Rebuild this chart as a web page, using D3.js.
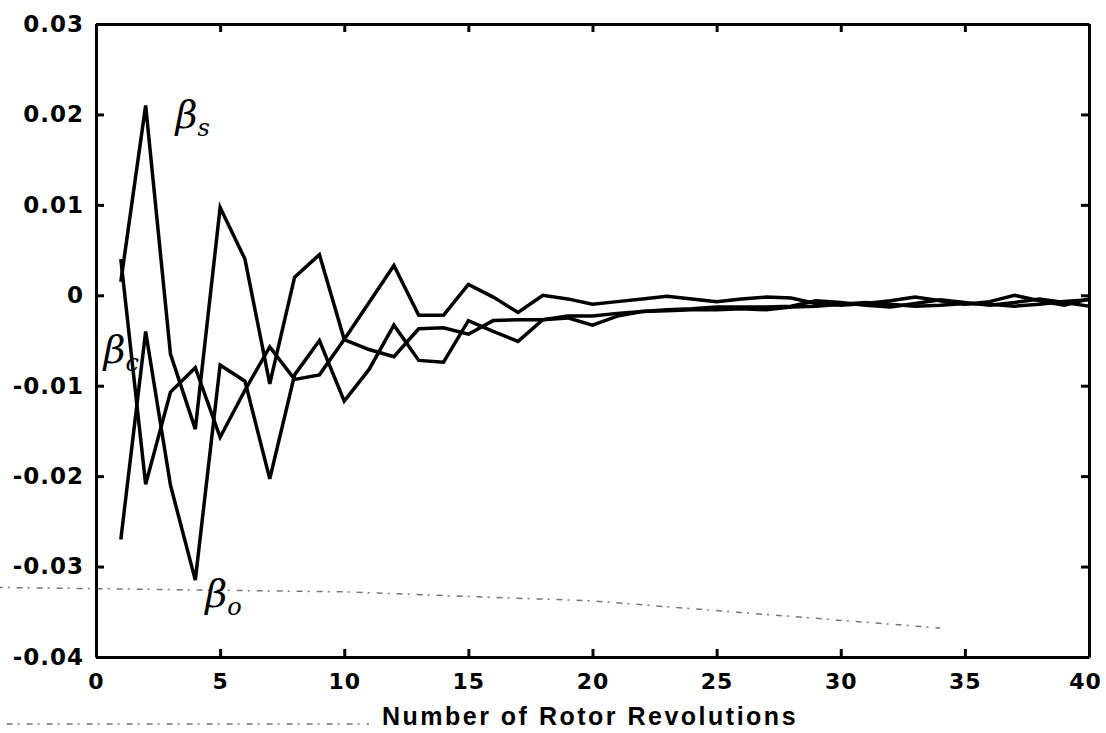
<!DOCTYPE html>
<meta charset="utf-8">
<style>
body { margin: 0; background: #fff; }
.axis text { font-family: "DejaVu Sans", sans-serif; font-weight: bold; font-size: 23px; fill: #000; }
.axis.x text { font-size: 22px; }
.axis path, .axis line { fill: none; stroke: #000; stroke-width: 3px; }
.line { fill: none; stroke: #000; stroke-width: 3.5px; stroke-linejoin: miter; }
.hand { font-family: "DejaVu Serif", serif; font-style: italic; fill: #000; }
.title { font-family: "Liberation Sans", Arial, sans-serif; font-weight: bold; font-size: 25px; letter-spacing: 2.5px; }
</style>
<body>
<div id="chart"></div>
<script src="https://d3js.org/d3.v7.min.js"></script>
<script>
// revolutions 1..40
var revs = d3.range(1, 41);

var betaS = [0.0015, 0.021, -0.0065, -0.0148, 0.0097, 0.004, -0.0098, 0.002, 0.0045, -0.0049,
             -0.006, -0.0068, -0.0037, -0.0036, -0.0043, -0.0028, -0.0027, -0.0027, -0.0023, -0.0023,
             -0.002, -0.0018, -0.0016, -0.0015, -0.0013, -0.0013, -0.0013, -0.0012, -0.0006, -0.0008,
             -0.0011, -0.0013, -0.0009, -0.0005, -0.0008, -0.0011, -0.0008, -0.0004, -0.0008, -0.0012];

var betaC = [0.004, -0.0209, -0.0107, -0.008, -0.0157, -0.0105, -0.0057, -0.0093, -0.0088, -0.0049,
             -0.0008, 0.0033, -0.0022, -0.0022, 0.0012, -0.0002, -0.0019, 0.0, -0.0004, -0.001,
             -0.0007, -0.0004, -0.0001, -0.0004, -0.0007, -0.0004, -0.0002, -0.0003, -0.0009, -0.0011,
             -0.0009, -0.0006, -0.0002, -0.0006, -0.001, -0.0007, 0.0, -0.0006, -0.0011, -0.0004];

var beta0 = [-0.027, -0.004, -0.021, -0.0315, -0.0077, -0.0095, -0.0203, -0.0088, -0.005, -0.0117,
             -0.0082, -0.0033, -0.0072, -0.0074, -0.0028, -0.004, -0.0051, -0.0027, -0.0025, -0.0033,
             -0.0023, -0.0018, -0.0017, -0.0016, -0.0016, -0.0015, -0.0016, -0.0013, -0.0012, -0.001,
             -0.0008, -0.001, -0.0012, -0.0011, -0.0009, -0.001, -0.0012, -0.001, -0.0007, -0.0005];

var xTicks = [0, 5, 10, 15, 20, 25, 30, 35, 40];
var yTicks = [-0.04, -0.03, -0.02, -0.01, 0, 0.01, 0.02, 0.03];

// faint scanner streaks (data units)
var streaks = [
    [[-4, -0.0323], [10, -0.0328], [20, -0.0338], [34, -0.0368]],
    [[-3.6, -0.0474], [11.0, -0.0474]]
];

var width = 1106, height = 733;

var x = d3.scaleLinear().domain([0, 40]).range([96, 1089]);
var y = d3.scaleLinear().domain([-0.04, 0.03]).range([657, 24]);

var svg = d3.select("#chart").append("svg")
    .attr("width", width)
    .attr("height", height);

var streakLine = d3.line().x(function(d) { return x(d[0]); }).y(function(d) { return y(d[1]); });
svg.selectAll(".streak")
    .data(streaks)
    .enter().append("path")
    .attr("class", "streak")
    .attr("d", streakLine)
    .attr("fill", "none")
    .attr("stroke", "#777")
    .attr("stroke-width", 1.5)
    .attr("stroke-dasharray", "6,5,2,7");

var fmt = function(d) { return d === 0 ? "0" : d.toFixed(2); };

var xAxis = svg.append("g")
    .attr("class", "axis x")
    .attr("transform", "translate(0," + y(-0.04) + ")")
    .call(d3.axisBottom(x).tickValues(xTicks).tickSizeInner(-8).tickSizeOuter(0).tickPadding(16));
xAxis.selectAll("text")
    .attr("letter-spacing", "1px")
    .attr("dx", function(d) { return d === 40 ? -4 : 0; });

svg.append("g")
    .attr("class", "axis")
    .attr("transform", "translate(0," + y(0.03) + ")")
    .call(d3.axisTop(x).tickValues(xTicks).tickSizeInner(-8).tickSizeOuter(0).tickFormat(""));

svg.append("g")
    .attr("class", "axis")
    .attr("transform", "translate(" + x(0) + ",0)")
    .call(d3.axisLeft(y).tickValues(yTicks).tickSizeInner(-8).tickSizeOuter(0).tickPadding(12).tickFormat(fmt))
    .selectAll("text").attr("letter-spacing", "1px");

svg.append("g")
    .attr("class", "axis")
    .attr("transform", "translate(" + x(40) + ",0)")
    .call(d3.axisRight(y).tickValues(yTicks).tickSizeInner(-8).tickSizeOuter(0).tickFormat(""));

var line = d3.line()
    .x(function(d, i) { return x(revs[i]); })
    .y(function(d) { return y(d); });

[betaS, betaC, beta0].forEach(function(s) {
    svg.append("path")
        .datum(s)
        .attr("class", "line")
        .attr("d", line);
});

svg.append("text")
    .attr("class", "title")
    .attr("x", 590)
    .attr("y", 725)
    .attr("text-anchor", "middle")
    .text("Number of Rotor Revolutions");

// hand-written labels
function hand(px, py, sub) {
    var t = svg.append("text").attr("class", "hand").attr("x", px).attr("y", py);
    t.append("tspan").attr("font-size", 38).text("β");
    t.append("tspan").attr("font-size", 24).attr("dy", 8).text(sub);
}
hand(x(3.2), y(0.0185), "s");
hand(x(0.3), y(-0.0075), "c");
hand(x(4.4), y(-0.0345), "o");
</script>
